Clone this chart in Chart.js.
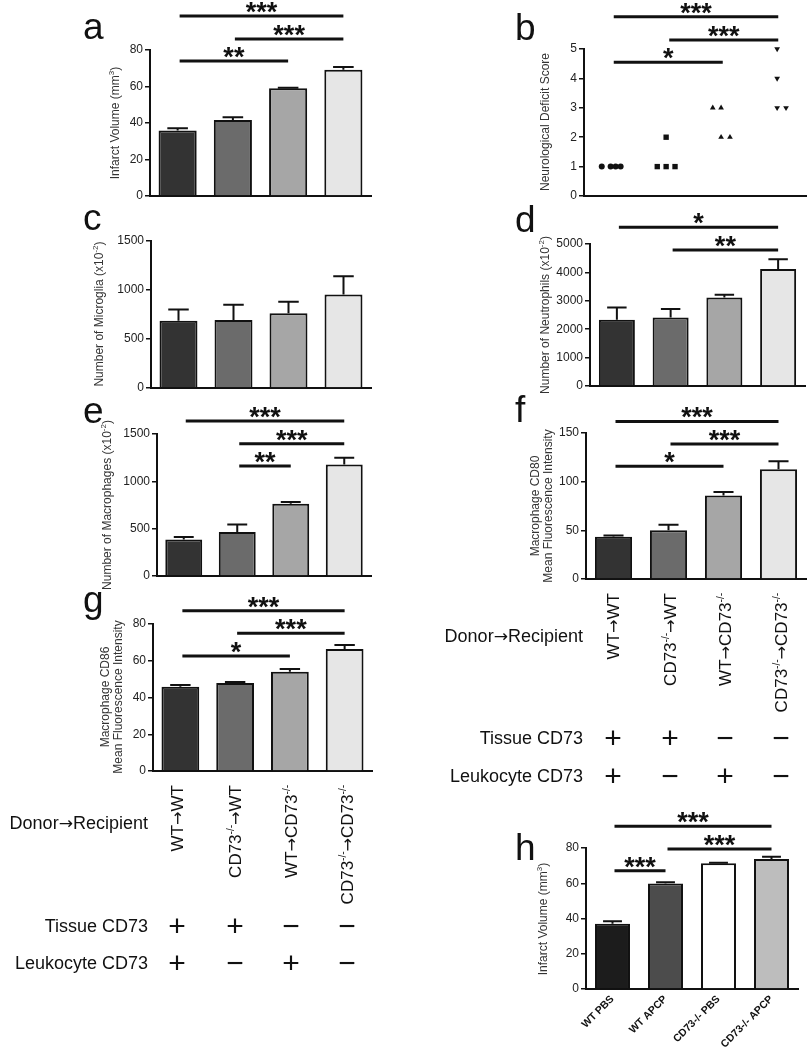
<!DOCTYPE html>
<html>
<head>
<meta charset="utf-8">
<script src="https://cdn.jsdelivr.net/npm/chart.js@4.4.0/dist/chart.umd.min.js"></script>
<style>
  body { margin: 0; background: #fff; }
  #stage { position: relative; width: 810px; height: 1050px; overflow: hidden; font-family: "Liberation Sans", Arial, sans-serif; color: #111; }
  #stage canvas { position: absolute; left: 0; top: 0; }
  .t { position: absolute; white-space: nowrap; }
  .letter { font-size: 37px; line-height: 37px; }
  .ytitle { font-size: 12px; line-height: 13px; color: #333; text-align: center; transform: translate(-50%, -50%) rotate(-90deg); }
  .ytitle sup { font-size: 8px; line-height: 0; }
  .grp { font-size: 17px; line-height: 17px; transform-origin: 0 0; transform: rotate(-90deg) translate(-100%, -50%); }
  .grp sup { font-size: 10px; line-height: 0; }
  .rowlab { font-size: 18px; line-height: 18px; text-align: right; }
  .arr { font-family: "DejaVu Sans", sans-serif; font-size: 0.95em; }
  .sign { font-size: 30px; line-height: 30px; width: 30px; text-align: center; transform: translate(-50%, -50%); }
</style>
</head>
<body>
<div id="stage"></div>
<script>
const W = 810, H = 1050;

// groups (bone marrow chimeras)
const groups = ["WT→WT", "CD73-/-→WT", "WT→CD73-/-", "CD73-/-→CD73-/-"];
const arrow = '<span class="arr">→</span>';
const groupsHtml = ["WT" + arrow + "WT", "CD73<sup>-/-</sup>" + arrow + "WT", "WT" + arrow + "CD73<sup>-/-</sup>", "CD73<sup>-/-</sup>" + arrow + "CD73<sup>-/-</sup>"];
const tissueCD73 = ["+", "+", "−", "−"];
const leukocyteCD73 = ["+", "−", "+", "−"];

// a - infarct volume
const infarctMean = [35.9, 41.6, 59.0, 69.2];
const infarctErr = [1.2, 1.5, 0.3, 1.5];
// b - neurological deficit score (per animal)
const neuroScore = [[1, 1, 1, 1], [1, 1, 1, 2], [3, 3, 2, 2], [5, 4, 3, 3]];
const neuroJitter = [[-0.18, -0.02, 0.07, 0.16], [-0.18, -0.02, 0.14, -0.02], [-0.18, -0.03, -0.03, 0.13], [-0.02, -0.02, -0.02, 0.14]];
// c - microglia
const microgliaMean = [687, 694, 762, 955];
const microgliaErr = [115, 156, 118, 186];
// d - neutrophils
const neutrophilMean = [2330, 2410, 3120, 4120];
const neutrophilErr = [430, 300, 95, 340];
// e - macrophages
const macrophageMean = [385, 466, 762, 1179];
const macrophageErr = [28, 78, 20, 70];
// f - CD80 MFI
const cd80Mean = [43.3, 50.1, 85.9, 112.8];
const cd80Err = [1.3, 5.7, 3.4, 8.2];
// g - CD86 MFI
const cd86Mean = [45.9, 47.9, 54.0, 66.4];
const cd86Err = [0.9, 0.6, 1.5, 2.2];
// h - APCP treatment
const apcpLabels = ["WT PBS", "WT APCP", "CD73-/- PBS", "CD73-/- APCP"];
const apcpMean = [37.0, 59.9, 71.3, 73.8];
const apcpErr = [1.5, 0.6, 0.4, 1.2];

// significance bars: [from, to, level (axis units), stars]
const sigA = [[0, 3, 98.6, "***"], [1, 3, 86, "***"], [0, 2, 74, "**"]];
const sigB = [[0, 3, 6.1, "***"], [1, 3, 5.31, "***"], [0, 2, 4.55, "*"]];
const sigD = [[0, 3, 5586, "*"], [1, 3, 4788, "**"]];
const sigE = [[0, 3, 1638, "***"], [1, 3, 1397, "***"], [1, 2, 1161, "**"]];
const sigF = [[0, 3, 161.9, "***"], [1, 3, 138.7, "***"], [0, 2, 115.9, "*"]];
const sigG = [[0, 3, 87.2, "***"], [1, 3, 74.9, "***"], [0, 2, 62.6, "*"]];
const sigH = [[0, 3, 92.3, "***"], [1, 3, 79.4, "***"], [0, 1, 67.1, "***"]];

const greys = ["#333333", "#6b6b6b", "#a6a6a6", "#e6e6e6"];
const greysH = ["#1c1c1c", "#4c4c4c", "#ffffff", "#bdbdbd"];

const stage = document.getElementById("stage");
const FONT = '"Liberation Sans", Arial, sans-serif';
const YW = 50; // room kept for y tick labels

function addText(cls, html, style) {
  const d = document.createElement("div");
  d.className = "t " + cls;
  d.innerHTML = html;
  Object.assign(d.style, style);
  stage.appendChild(d);
}

function newCanvas() {
  const c = document.createElement("canvas");
  c.width = W; c.height = H;
  c.style.width = W + "px"; c.style.height = H + "px";
  stage.appendChild(c);
  return c.getContext("2d");
}

const errorBars = {
  id: "errorBars",
  afterDatasetsDraw(chart) {
    const ds = chart.data.datasets[0];
    if (!ds.errors) return;
    const meta = chart.getDatasetMeta(0);
    const y = chart.scales.y;
    const ctx = chart.ctx;
    ctx.save();
    ctx.strokeStyle = "#111";
    ctx.lineWidth = 2;
    meta.data.forEach((bar, i) => {
      const top = y.getPixelForValue(ds.data[i] + ds.errors[i]);
      const half = bar.width * 0.27;
      ctx.beginPath();
      ctx.moveTo(bar.x, bar.y);
      ctx.lineTo(bar.x, top);
      ctx.moveTo(bar.x - half, top);
      ctx.lineTo(bar.x + half, top);
      ctx.stroke();
    });
    ctx.restore();
  }
};

function sigPlugin(list) {
  return {
    id: "sig",
    afterDraw(chart) {
      const { x, y } = chart.scales;
      const ctx = chart.ctx;
      ctx.save();
      ctx.strokeStyle = "#111";
      ctx.fillStyle = "#111";
      ctx.lineWidth = 3;
      ctx.font = "bold 27px " + FONT;
      ctx.textAlign = "center";
      ctx.textBaseline = "alphabetic";
      list.forEach(([a, b, level, stars]) => {
        const x1 = x.getPixelForValue(a) + 2, x2 = x.getPixelForValue(b);
        const py = y.getPixelForValue(level);
        ctx.beginPath();
        ctx.moveTo(x1, py);
        ctx.lineTo(x2, py);
        ctx.stroke();
        ctx.fillText(stars, (x1 + x2) / 2, py + 5);
      });
      ctx.restore();
    }
  };
}

function yScale(max, step) {
  return {
    min: 0, max: max,
    ticks: { stepSize: step, color: "#222", padding: 2, font: { size: 12, family: FONT }, callback: v => String(v) },
    grid: { drawOnChartArea: false, color: "#111", lineWidth: 1.5, tickLength: 5 },
    border: { color: "#111", width: 2 },
    afterFit: s => { s.width = YW; }
  };
}

function layout(r, xh) {
  return { padding: { left: r[0] - YW, top: r[1], right: W - r[2], bottom: H - r[3] - xh } };
}

function barPanel(r, labels, mean, err, colors, max, step, sig, barPct, xTicks) {
  const xh = xTicks ? H - r[3] : 0;
  new Chart(newCanvas(), {
    type: "bar",
    data: {
      labels: labels,
      datasets: [{
        data: mean, errors: err,
        backgroundColor: colors, borderColor: "#111", borderWidth: 2,
        categoryPercentage: 1, barPercentage: barPct
      }]
    },
    options: {
      responsive: false, animation: false,
      layout: layout(r, xh),
      plugins: { legend: { display: false }, tooltip: { enabled: false } },
      scales: {
        x: {
          grid: { display: false },
          border: { color: "#111", width: 2 },
          ticks: xTicks || { display: false },
          afterFit: s => { s.height = xh; }
        },
        y: yScale(max, step)
      }
    },
    plugins: [errorBars, sigPlugin(sig)]
  });
}

// plot rectangles: [left, top, right, bottom]
barPanel([150, 50, 371, 196], groups, infarctMean, infarctErr, greys, 80, 20, sigA, 0.69);
barPanel([151, 241, 371, 388], groups, microgliaMean, microgliaErr, greys, 1500, 500, [], 0.69);
barPanel([590, 244, 805, 386], groups, neutrophilMean, neutrophilErr, greys, 5000, 1000, sigD, 0.67);
barPanel([157, 434, 371, 576], groups, macrophageMean, macrophageErr, greys, 1500, 500, sigE, 0.69);
barPanel([586, 433, 806, 579], groups, cd80Mean, cd80Err, greys, 150, 50, sigF, 0.675);
barPanel([153, 624, 372, 771], groups, cd86Mean, cd86Err, greys, 80, 20, sigG, 0.69);
barPanel([586, 848, 798, 989], apcpLabels, apcpMean, apcpErr, greysH, 80, 20, sigH, 0.66,
  { color: "#111", font: { size: 10.5, weight: "bold", family: FONT }, minRotation: 45, maxRotation: 45, autoSkip: false, padding: -4 });

// b - scatter
const markers = [["circle", 0, 3], ["rect", 0, 3.8], ["triangle", 0, 3.3], ["triangle", 180, 3.3]];
new Chart(newCanvas(), {
  type: "scatter",
  data: {
    datasets: neuroScore.map((scores, g) => ({
      data: scores.map((v, i) => ({ x: g + neuroJitter[g][i], y: v })),
      pointStyle: markers[g][0], rotation: markers[g][1], radius: markers[g][2],
      backgroundColor: "#111", borderColor: "#111", borderWidth: 0, clip: false
    }))
  },
  options: {
    responsive: false, animation: false,
    layout: layout([584, 49, 807, 196], 0),
    plugins: { legend: { display: false }, tooltip: { enabled: false } },
    scales: {
      x: {
        type: "linear", min: -0.5, max: 3.5,
        grid: { display: false },
        border: { color: "#111", width: 2 },
        ticks: { display: false },
        afterFit: s => { s.height = 0; }
      },
      y: yScale(5, 1)
    }
  },
  plugins: [sigPlugin(sigB)]
});

// panel letters
[["a", 83, 8], ["b", 515, 9], ["c", 83, 199], ["d", 515, 201],
 ["e", 83, 392], ["f", 515, 391], ["g", 83, 581], ["h", 515, 829]].forEach(([t, x, y]) => {
  addText("letter", t, { left: x + "px", top: y + "px" });
});

// axis titles
[["Infarct Volume (mm<sup>3</sup>)", 115, 123],
 ["Neurological Deficit Score", 545, 122],
 ["Number of Microglia (x10<sup>-2</sup>)", 99, 314],
 ["Number of Neutrophils (x10<sup>-2</sup>)", 545, 315],
 ["Number of Macrophages (x10<sup>-2</sup>)", 107, 505],
 ["Macrophage CD80<br>Mean Fluorescence Intensity", 542, 506],
 ["Macrophage CD86<br>Mean Fluorescence Intensity", 112, 697],
 ["Infarct Volume (mm<sup>3</sup>)", 543, 919]].forEach(([t, x, y]) => {
  addText("ytitle", t, { left: x + "px", top: y + "px" });
});

// genotype tables under f and g
function genotypeTable(cols, labelTop, labelRight, donorY, tissueY, leukoY) {
  cols.forEach((cx, i) => {
    addText("grp", groupsHtml[i], { left: cx + "px", top: labelTop + "px" });
    addText("sign", tissueCD73[i], { left: cx + "px", top: tissueY + "px" });
    addText("sign", leukocyteCD73[i], { left: cx + "px", top: leukoY + "px" });
  });
  const right = (W - labelRight) + "px";
  addText("rowlab", "Donor" + arrow + "Recipient", { right: right, top: (donorY - 9) + "px" });
  addText("rowlab", "Tissue CD73", { right: right, top: (tissueY - 9) + "px" });
  addText("rowlab", "Leukocyte CD73", { right: right, top: (leukoY - 9) + "px" });
}
genotypeTable([613, 670, 725, 781], 593, 583, 636, 738, 776);
genotypeTable([177, 235, 291, 347], 785, 148, 823, 926, 963);
</script>
</body>
</html>
